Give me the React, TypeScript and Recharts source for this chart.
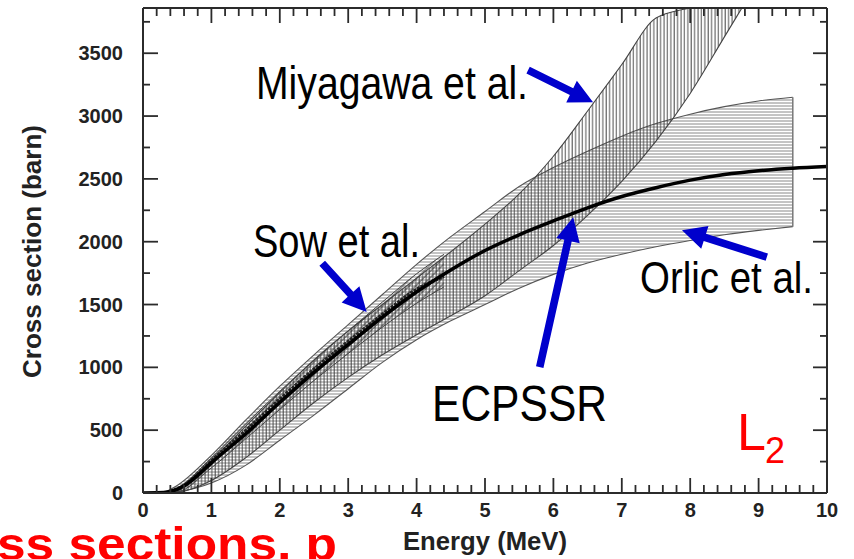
import { Area, ComposedChart, Line, ReferenceLine, XAxis, YAxis } from "recharts";

const W = 854;
const H = 559;
const INK = "#2b2b2b";
const BLUE = "#0000cc";
const RED = "#ff0000";

// Orlic et al. band (horizontal hatching)
const orlicEnergy = [0.3, 0.5, 1, 1.5, 2, 2.5, 3, 3.5, 4, 4.5, 5, 5.5, 6, 6.5, 7, 7.5, 8, 8.5, 9, 9.5];
const orlicLow = [0, 10, 80, 220, 420, 620, 830, 1040, 1220, 1370, 1500, 1630, 1740, 1830, 1900, 1960, 2010, 2055, 2090, 2120];
const orlicHigh = [0, 60, 300, 580, 850, 1100, 1340, 1580, 1820, 2040, 2240, 2440, 2590, 2720, 2840, 2940, 3015, 3075, 3120, 3150];

// Miyagawa et al. band (vertical hatching)
const miyaEnergy = [0.3, 0.5, 1, 1.5, 2, 2.5, 3, 3.5, 4, 4.5, 5, 5.5, 6, 6.5, 7, 7.5, 8, 8.5, 8.8];
const miyaLow = [0, 5, 100, 280, 500, 720, 920, 1100, 1260, 1410, 1570, 1770, 1970, 2210, 2480, 2800, 3180, 3630, 3900];
const miyaHigh = [0, 25, 260, 530, 800, 1060, 1290, 1500, 1710, 1920, 2140, 2380, 2680, 3040, 3410, 3780, 3862, 3940, 3990];

// Sow et al. band (diagonal hatching) and measured points
const sowEnergy = [0.3, 0.5, 1, 1.5, 2, 2.5, 3, 3.5, 4, 4.4];
const sowLow = [0, 8, 200, 430, 665, 895, 1110, 1320, 1510, 1640];
const sowHigh = [0, 40, 280, 550, 810, 1055, 1290, 1520, 1745, 1900];
const sowPtEnergy = [0.4, 0.6, 0.8, 1, 1.5, 2, 2.5, 3, 3.5, 4, 4.4];
const sowPts = [12, 60, 150, 255, 495, 745, 985, 1205, 1420, 1620, 1725];

// ECPSSR theory
const ecpssrEnergy = [0, 0.2, 0.4, 0.6, 0.8, 1, 1.5, 2, 2.5, 3, 3.5, 4, 4.5, 5, 5.5, 6, 6.5, 7, 7.5, 8, 8.5, 9, 9.5, 10];
const ecpssr = [0, 1, 12, 55, 140, 240, 470, 720, 960, 1180, 1400, 1600, 1775, 1930, 2055, 2165, 2270, 2360, 2430, 2490, 2535, 2565, 2585, 2598];

const xLabels = [0, 1, 2, 3, 4, 5, 6, 7, 8, 9, 10];
const yLabels = [0, 500, 1000, 1500, 2000, 2500, 3000, 3500];

// annotation arrows, in data units [energy, barn]
const arrows = [
  { from: [5.63, 3365], to: [6.58, 3110] },
  { from: [2.62, 1829], to: [3.27, 1440] },
  { from: [5.8, 1002], to: [6.29, 2195] },
  { from: [9.12, 1877], to: [7.88, 2092] },
];

const band = (e: number[], lo: number[], hi: number[]) =>
  e.map((x, i) => ({ e: x, r: [lo[i], hi[i]] }));
const curve = (e: number[], v: number[]) => e.map((x, i) => ({ e: x, v: v[i] }));

const orlicData = band(orlicEnergy, orlicLow, orlicHigh);
const miyaData = band(miyaEnergy, miyaLow, miyaHigh);
const sowData = band(sowEnergy, sowLow, sowHigh);
const sowPtData = curve(sowPtEnergy, sowPts);
const ecpssrData = curve(ecpssrEnergy, ecpssr);
const orlicEdge = [
  { e: orlicEnergy[orlicEnergy.length - 1], v: orlicLow[orlicLow.length - 1] },
  { e: orlicEnergy[orlicEnergy.length - 1], v: orlicHigh[orlicHigh.length - 1] },
];

// minor ticks: 0.2 MeV and 250 barn
const xTicks = Array.from({ length: 51 }, (_, k) => Math.round(k * 2) / 10);
const yTicks = Array.from({ length: 16 }, (_, k) => k * 250);

const isMajorX = (v: number) => Math.abs(v - Math.round(v)) < 1e-6;
const isMajorY = (v: number) => v % 500 === 0;

const tickFont = {
  fontFamily: "'Liberation Sans', Arial, sans-serif",
  fontWeight: 700,
  fontSize: 20,
  fill: "#222",
};

function BottomTick({ x, y, payload }: any) {
  const major = isMajorX(payload.value);
  return (
    <g>
      <line x1={x} y1={y} x2={x} y2={y - (major ? 15 : 8)} stroke={INK} strokeWidth={1.8} />
      {major && xLabels.includes(Math.round(payload.value)) && (
        <text x={x} y={y + 24} textAnchor="middle" {...tickFont}>
          {Math.round(payload.value)}
        </text>
      )}
    </g>
  );
}

function TopTick({ x, y, payload }: any) {
  const major = isMajorX(payload.value);
  return <line x1={x} y1={y} x2={x} y2={y + (major ? 15 : 8)} stroke={INK} strokeWidth={1.8} />;
}

function LeftTick({ x, y, payload }: any) {
  const major = isMajorY(payload.value);
  return (
    <g>
      <line x1={x} y1={y} x2={x + (major ? 15 : 7)} y2={y} stroke={INK} strokeWidth={1.8} />
      {major && yLabels.includes(payload.value) && (
        <text x={x - 20} y={y + 7} textAnchor="end" {...tickFont}>
          {payload.value}
        </text>
      )}
    </g>
  );
}

function RightTick({ x, y, payload }: any) {
  const major = isMajorY(payload.value);
  return <line x1={x} y1={y} x2={x - (major ? 14 : 7)} y2={y} stroke={INK} strokeWidth={1.8} />;
}

function Arrow({ x1, y1, x2, y2 }: any) {
  const dx = x2 - x1;
  const dy = y2 - y1;
  const len = Math.hypot(dx, dy);
  const ux = dx / len;
  const uy = dy / len;
  const nx = -uy;
  const ny = ux;
  const hl = 24; // head length
  const hw = 12; // head half width
  const sw = 3.8; // shaft half width
  const bx = x2 - ux * hl;
  const by = y2 - uy * hl;
  const pts = [
    [x1 + nx * sw, y1 + ny * sw],
    [bx + nx * sw, by + ny * sw],
    [bx + nx * hw, by + ny * hw],
    [x2, y2],
    [bx - nx * hw, by - ny * hw],
    [bx - nx * sw, by - ny * sw],
    [x1 - nx * sw, y1 - ny * sw],
  ];
  return <polygon points={pts.map((p) => p.join(",")).join(" ")} fill={BLUE} />;
}

const narrow = "'Liberation Sans Narrow', 'Liberation Sans', Arial, sans-serif";
const axisProps = {
  interval: 0 as const,
  allowDataOverflow: true,
  tickSize: 0,
  tickMargin: 0,
  tickLine: false,
  axisLine: { stroke: INK, strokeWidth: 2 },
};

export default function App() {
  return (
    <div style={{ position: "absolute", left: 0, top: 0, width: W, height: H, background: "#fff" }}>
      <ComposedChart
        width={W}
        height={H}
        margin={{ top: 7, right: 26, bottom: 65, left: 142 }}
      >
        <defs>
          <pattern id="hatchH" width="8" height="3" patternUnits="userSpaceOnUse">
            <line x1="0" y1="1" x2="8" y2="1" stroke="#7a7a7a" strokeWidth="0.9" />
          </pattern>
          <pattern id="hatchV" width="3.4" height="8" patternUnits="userSpaceOnUse">
            <line x1="1" y1="0" x2="1" y2="8" stroke="#3a3a3a" strokeWidth="0.9" />
          </pattern>
          <pattern id="hatchD" width="4.5" height="4.5" patternUnits="userSpaceOnUse" patternTransform="rotate(45)">
            <line x1="1" y1="0" x2="1" y2="4.5" stroke="#333" strokeWidth="0.8" />
          </pattern>
        </defs>
        <XAxis
          dataKey="e"
          type="number"
          domain={[0, 10]}
          ticks={xTicks}
          height={1}
          tick={BottomTick}
          {...axisProps}
        />
        <XAxis
          xAxisId="top"
          orientation="top"
          dataKey="e"
          type="number"
          domain={[0, 10]}
          ticks={xTicks}
          height={1}
          tick={TopTick}
          {...axisProps}
        />
        <YAxis
          type="number"
          domain={[0, 3860]}
          ticks={yTicks}
          width={1}
          tick={LeftTick}
          {...axisProps}
        />
        <YAxis
          yAxisId="right"
          orientation="right"
          type="number"
          domain={[0, 3860]}
          ticks={yTicks}
          width={1}
          tick={RightTick}
          {...axisProps}
        />
        <Area
          data={orlicData}
          dataKey="r"
          type="monotone"
          fill="url(#hatchH)"
          fillOpacity={1}
          stroke="#555"
          strokeWidth={1.1}
          isAnimationActive={false}
        />
        <Line
          data={orlicEdge}
          dataKey="v"
          type="linear"
          stroke="#777"
          strokeWidth={1.5}
          dot={false}
          isAnimationActive={false}
        />
        <Area
          data={miyaData}
          dataKey="r"
          type="monotone"
          fill="url(#hatchV)"
          fillOpacity={1}
          stroke="#444"
          strokeWidth={1.1}
          isAnimationActive={false}
        />
        <Area
          data={sowData}
          dataKey="r"
          type="monotone"
          fill="url(#hatchD)"
          fillOpacity={1}
          stroke="#444"
          strokeWidth={1}
          isAnimationActive={false}
        />
        <Line
          data={sowPtData}
          dataKey="v"
          type="monotone"
          stroke="#222"
          strokeWidth={3.5}
          strokeDasharray="3 1"
          dot={false}
          isAnimationActive={false}
        />
        <Line
          data={ecpssrData}
          dataKey="v"
          type="monotone"
          stroke="#000"
          strokeWidth={3.5}
          dot={false}
          isAnimationActive={false}
        />
        <Line
          xAxisId="top"
          yAxisId="right"
          data={ecpssrData}
          dataKey="v"
          stroke="none"
          dot={false}
          isAnimationActive={false}
        />
        {arrows.map((a, i) => (
          <ReferenceLine
            key={i}
            segment={[
              { x: a.from[0], y: a.from[1] },
              { x: a.to[0], y: a.to[1] },
            ]}
            shape={Arrow}
          />
        ))}
      </ComposedChart>

      <svg
        width={W}
        height={H}
        style={{ position: "absolute", left: 0, top: 0, pointerEvents: "none" }}
      >
        <g fontFamily={narrow} fill="#000">
          <text x={256} y={99} fontSize={47} textLength={272} lengthAdjust="spacingAndGlyphs">
            Miyagawa et al.
          </text>
          <text x={253} y={257} fontSize={46} textLength={167} lengthAdjust="spacingAndGlyphs">
            Sow et al.
          </text>
          <text x={640} y={293} fontSize={45} textLength={173} lengthAdjust="spacingAndGlyphs">
            Orlic et al.
          </text>
          <text x={432} y={421} fontSize={50} textLength={175} lengthAdjust="spacingAndGlyphs">
            ECPSSR
          </text>
        </g>
        <text x={737} y={450} fontSize={52} fill={RED} fontFamily={narrow}>
          L
        </text>
        <text x={765} y={463} fontSize={36} fill={RED} fontFamily={narrow}>
          2
        </text>
        <text
          x={403}
          y={550}
          fontSize={25}
          fontWeight={700}
          fill="#222"
          fontFamily="'Liberation Sans', Arial, sans-serif"
          textLength={164}
          lengthAdjust="spacingAndGlyphs"
        >
          Energy (MeV)
        </text>
        <text
          x={41}
          y={378}
          transform="rotate(-90, 41, 378)"
          fontSize={25}
          fontWeight={700}
          fill="#222"
          fontFamily="'Liberation Sans', Arial, sans-serif"
          textLength={253}
          lengthAdjust="spacingAndGlyphs"
        >
          Cross section (barn)
        </text>
        <text
          x={-3}
          y={560}
          fontSize={47}
          fontWeight={700}
          fill={RED}
          fontFamily="'Liberation Sans', Arial, sans-serif"
          textLength={340}
          lengthAdjust="spacingAndGlyphs"
        >
          ss sections, p
        </text>
      </svg>
    </div>
  );
}
